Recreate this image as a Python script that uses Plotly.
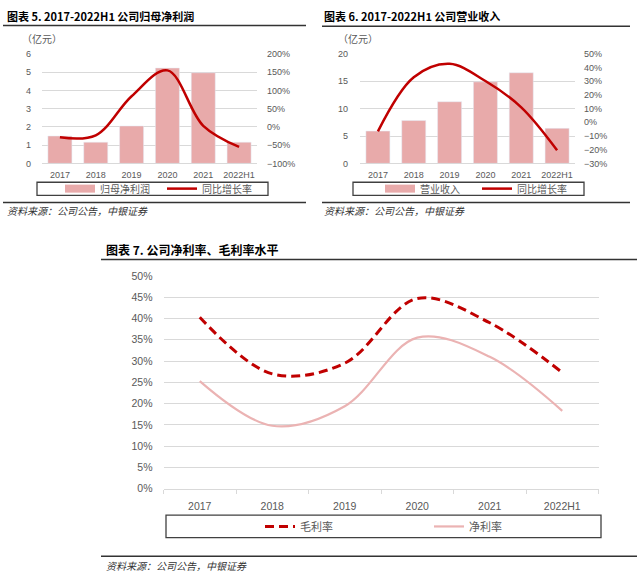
import plotly.graph_objects as go

years = ["2017", "2018", "2019", "2020", "2021", "2022H1"]

# 图表5 归母净利润（亿元）及同比增长率
net_profit = [1.50, 1.16, 2.05, 5.23, 4.97, 1.16]
net_profit_yoy = [-0.285, -0.23, 0.84, 1.55, 0.03, -0.55]

# 图表6 营业收入（亿元）及同比增长率
revenue = [5.9, 7.83, 11.27, 14.9, 16.57, 6.4]
revenue_yoy = [-0.066, 0.33, 0.428, 0.302, 0.11, -0.204]

# 图表7 毛利率、净利率
gross_margin = [0.403, 0.27, 0.295, 0.447, 0.39, 0.273]
net_margin = [0.253, 0.148, 0.194, 0.355, 0.31, 0.183]

W, H = 640, 577
PINK = "#E8AAAA"
RED = "#C00000"
LIGHT = "#EBB3B3"
GRID = "#D9D9D9"
GRAY = "#595959"
CJK = "Noto Sans CJK SC"
NUM = "Liberation Sans, Arial"


def px(x):
    return x / W


def py(y):
    return 1 - y / H


fig = go.Figure()

# ---- chart 5
fig.add_trace(go.Bar(x=years, y=net_profit, marker_color=PINK, width=0.67,
                     xaxis="x", yaxis="y", showlegend=False))
fig.add_trace(go.Scatter(x=years, y=net_profit_yoy, mode="lines", name="同比增长率",
                         line=dict(color=RED, width=2.5, shape="spline"),
                         xaxis="x", yaxis="y2", legend="legend", legendrank=2))
fig.add_trace(go.Scatter(x=[None], y=[None], mode="lines", name="归母净利润",
                         line=dict(color=PINK, width=8),
                         xaxis="x", yaxis="y", legend="legend", legendrank=1))

# ---- chart 6
fig.add_trace(go.Bar(x=years, y=revenue, marker_color=PINK, width=0.67,
                     xaxis="x2", yaxis="y3", showlegend=False))
fig.add_trace(go.Scatter(x=years, y=revenue_yoy, mode="lines", name="同比增长率",
                         line=dict(color=RED, width=2.5, shape="spline"),
                         xaxis="x2", yaxis="y4", legend="legend2", legendrank=2))
fig.add_trace(go.Scatter(x=[None], y=[None], mode="lines", name="营业收入",
                         line=dict(color=PINK, width=8),
                         xaxis="x2", yaxis="y3", legend="legend2", legendrank=1))

# ---- chart 7
fig.add_trace(go.Scatter(x=years, y=gross_margin, mode="lines", name="毛利率",
                         line=dict(color=RED, width=3, shape="spline", dash="9px,5px"),
                         xaxis="x3", yaxis="y5", legend="legend3"))
fig.add_trace(go.Scatter(x=years, y=net_margin, mode="lines", name="净利率",
                         line=dict(color=LIGHT, width=2.2, shape="spline"),
                         xaxis="x3", yaxis="y5", legend="legend3"))

small = dict(family=NUM, size=9, color=GRAY)
big = dict(family=NUM, size=10.5, color=GRAY)

xcommon = dict(type="category", showgrid=False, ticks="", zeroline=False,
               range=[-0.5, 5.5])
ycommon = dict(gridcolor=GRID, gridwidth=1, zeroline=True, zerolinecolor=GRID,
               zerolinewidth=1, ticks="", showline=False)

leg_common = dict(orientation="h", xanchor="left", yanchor="middle",
                  bgcolor="rgba(0,0,0,0)", borderwidth=0, entrywidthmode="pixels")

fig.update_layout(
    width=W, height=H, margin=dict(l=0, r=0, t=0, b=0),
    paper_bgcolor="white", plot_bgcolor="white",
    font=dict(family=NUM, size=10, color=GRAY),
    xaxis=dict(xcommon, domain=[px(42), px(257)], anchor="y", tickfont=small,
               ticklabelstandoff=5),
    yaxis=dict(ycommon, domain=[py(160.7), py(49)], range=[0, 6], dtick=1,
               anchor="x", tickfont=small, ticklabelstandoff=10),
    yaxis2=dict(overlaying="y", anchor="x", side="right", range=[-1, 2], dtick=0.5,
                tickformat=".0%", showgrid=False, zeroline=False, tickfont=small,
                ticklabelstandoff=9),
    xaxis2=dict(xcommon, domain=[px(360), px(575)], anchor="y3", tickfont=small,
                ticklabelstandoff=5),
    yaxis3=dict(ycommon, domain=[py(160.7), py(49)], range=[0, 20], dtick=5,
                anchor="x2", tickfont=small, ticklabelstandoff=11),
    yaxis4=dict(overlaying="y3", anchor="x2", side="right", range=[-0.3, 0.5], dtick=0.1,
                tickformat=".0%", showgrid=False, zeroline=False, tickfont=small,
                ticklabelstandoff=8),
    xaxis3=dict(xcommon, domain=[px(163.5), px(598.5)], anchor="y5", tickfont=big,
                showline=True, linecolor=GRID, linewidth=1, ticks="outside",
                tickson="boundaries", ticklen=4, tickcolor=GRID, ticklabelstandoff=8),
    yaxis5=dict(ycommon, domain=[py(493), py(275.7)], range=[0, 0.5], dtick=0.05,
                anchor="x3", tickformat=".0%", tickfont=big, ticklabelstandoff=10),
    legend=dict(leg_common, x=px(60), y=py(186.5), entrywidth=57,
                font=dict(family=CJK, size=10, color=GRAY)),
    legend2=dict(leg_common, x=px(380), y=py(186.5), entrywidth=52,
                 font=dict(family=CJK, size=10, color=GRAY)),
    legend3=dict(leg_common, x=px(260), y=py(531.5), entrywidth=124,
                 font=dict(family=CJK, size=11, color=GRAY)),
)

# titles, units, sources
notes = [
    ("<b>图表 5. 2017-2022H1 公司归母净利润</b>", 5, 10, 11, "#000000"),
    ("<b>图表 6. 2017-2022H1 公司营业收入</b>", 322, 10, 11, "#000000"),
    ("<b>图表 7. 公司净利率、毛利率水平</b>", 104, 249, 12, "#000000"),
    ("（亿元）", 20, 33, 10, GRAY),
    ("（亿元）", 336, 33, 10, GRAY),
    ("<i>资料来源：公司公告，中银证券</i>", 5, 209, 10, "#333333"),
    ("<i>资料来源：公司公告，中银证券</i>", 322, 209, 10, "#333333"),
    ("<i>资料来源：公司公告，中银证券</i>", 104, 571, 10, "#333333"),
]
for text, x, y, size, color in notes:
    fig.add_annotation(text=text, xref="paper", yref="paper", x=px(x), y=py(y),
                       xanchor="left", yanchor="middle", showarrow=False,
                       font=dict(family=CJK, size=size, color=color))

# rules under titles and above sources
rules = [(3, 306, 20), (322, 630, 20.7), (3, 306, 200.7), (322, 630, 200.7),
         (101, 637, 259), (101, 637, 562)]
for x0, x1, y in rules:
    fig.add_shape(type="line", xref="paper", yref="paper", x0=px(x0), x1=px(x1),
                  y0=py(y), y1=py(y), line=dict(color="#333333", width=1.5))

# legend frames
frames = [(37, 180, 268, 193.3), (353, 180, 584, 193.3), (166, 520, 601, 543)]
for x0, y0, x1, y1 in frames:
    fig.add_shape(type="rect", xref="paper", yref="paper", x0=px(x0), x1=px(x1),
                  y0=py(y0), y1=py(y1), line=dict(color="#404040", width=1.3))

# the page body has a default 8px margin; drop it so the figure sits at (0, 0)
fig.write_html("out.html", config={"displayModeBar": False},
               post_script="document.body.style.margin='0';")
